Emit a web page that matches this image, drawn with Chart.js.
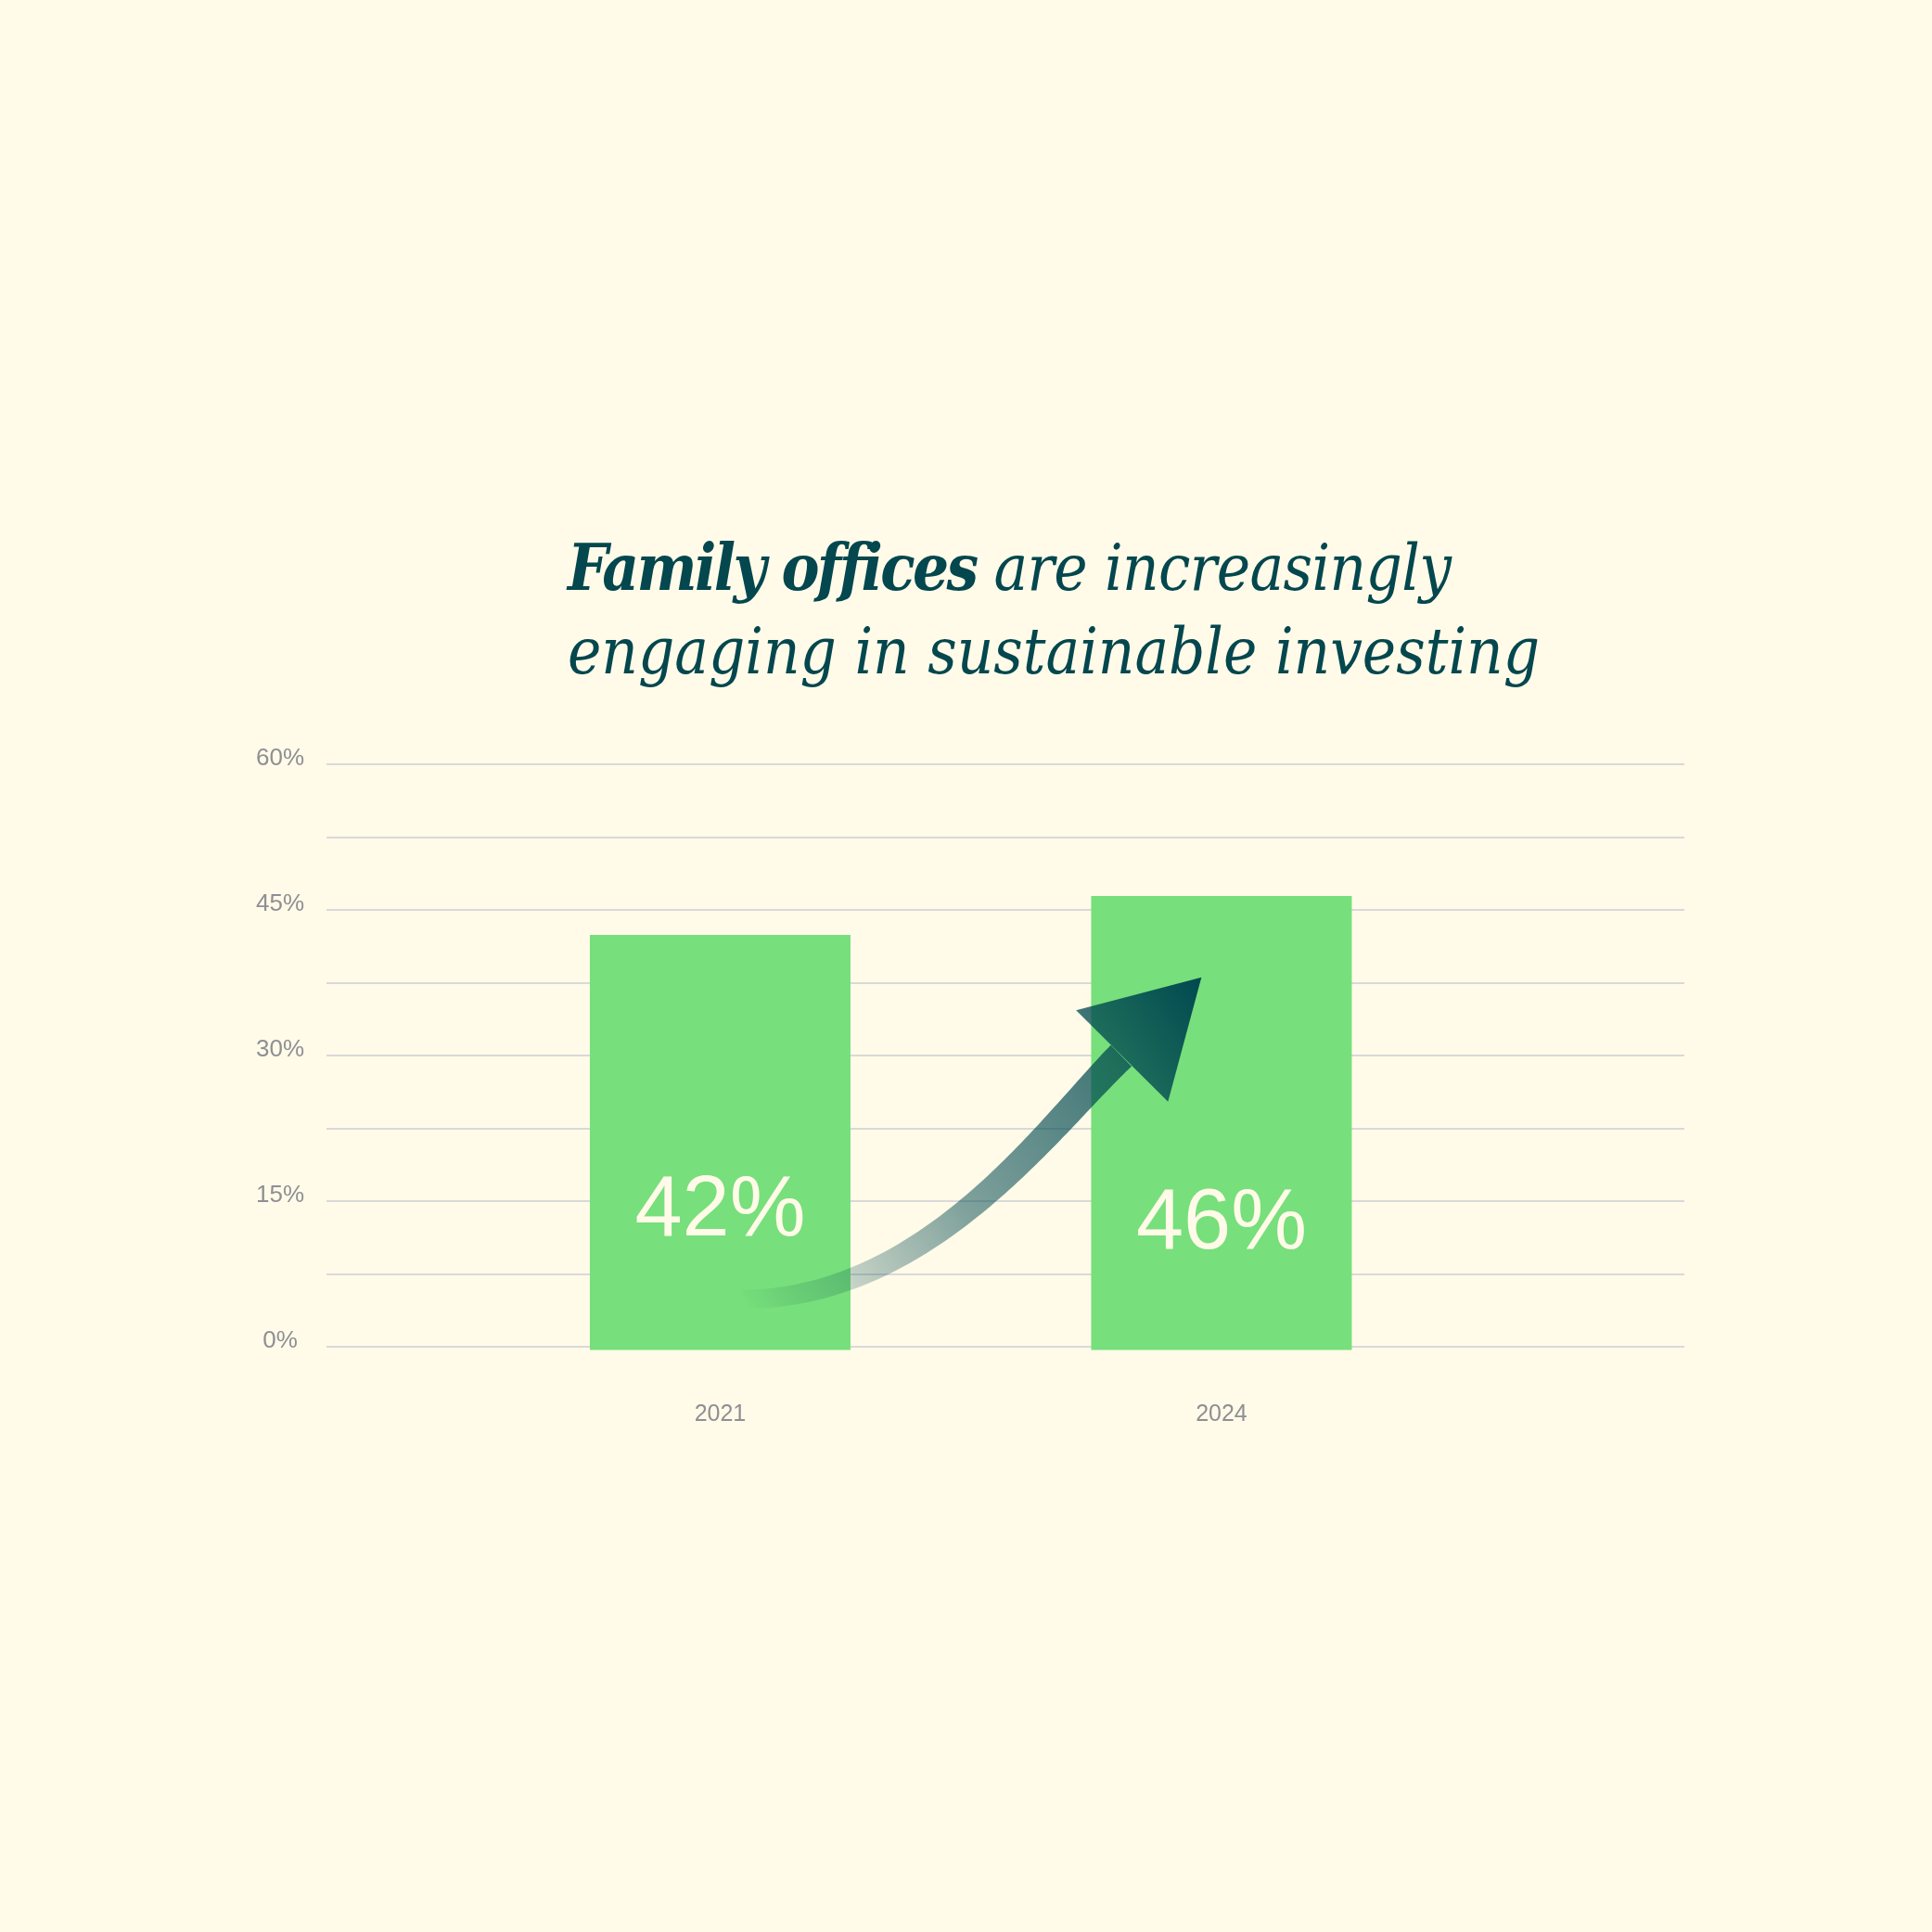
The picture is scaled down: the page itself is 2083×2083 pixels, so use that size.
<!DOCTYPE html>
<html>
<head>
<meta charset="utf-8">
<script src="https://cdn.jsdelivr.net/npm/chart.js@4.4.1/dist/chart.umd.min.js"></script>
<style>
  html, body { margin: 0; padding: 0; background: #fffbe8; }
  #wrap { position: relative; width: 2083px; height: 2083px; overflow: hidden; }
  #c { position: absolute; left: 0; top: 0; }
  #title {
    position: absolute; left: 612px; top: 566px; margin: 0;
    font-family: "DejaVu Serif Condensed", "DejaVu Serif", serif;
    font-style: italic; font-weight: 400; font-size: 66px; line-height: 90px;
    color: #04474e; white-space: nowrap; letter-spacing: 0;
  }
  #title b { font-weight: 700; letter-spacing: -2.6px; }
  #title .line { display: block; }
  #title .rest { letter-spacing: -0.6px; }
  #bl { display: inline-block; width: 0; height: 0; }
</style>
</head>
<body>
<div id="wrap">
  <canvas id="c" width="2083" height="2083"></canvas>
  <h1 id="title"><span class="line"><span id="l1"><b>Family offices</b><span class="rest"> are increasingly</span></span><span id="bl"></span></span><span class="line"><span id="l2">engaging in sustainable investing</span></span></h1>
</div>
<script>
// ---- data ----
const categories = ['2021', '2024'];
const shareValues = [42, 46];
const yTickValues = [0, 15, 30, 45, 60];

// ---- title fit (layout only) ----
(function fitTitle() {
  const t = document.getElementById('title');
  const l2 = document.getElementById('l2');
  const targetW = 1048;
  let fs = 66;
  for (let k = 0; k < 3; k++) {
    const w = l2.getBoundingClientRect().width;
    fs = fs * targetW / w;
    t.style.fontSize = fs + 'px';
  }
  const bl = document.getElementById('bl');
  const base = bl.getBoundingClientRect().bottom;
  const top = parseFloat(getComputedStyle(t).top);
  t.style.top = (top + (636 - base)) + 'px';
})();

// ---- plugins ----
const valueLabelPlugin = {
  id: 'valueLabels',
  afterDatasetsDraw(chart, args, opts) {
    const meta = chart.getDatasetMeta(0);
    const yBase = chart.scales.y.getPixelForValue(0);
    const c = chart.ctx;
    c.save();
    c.font = opts.font;
    c.fillStyle = opts.color;
    c.textAlign = 'center';
    c.textBaseline = 'alphabetic';
    meta.data.forEach((bar, i) => {
      c.fillText(shareValues[i] + '%', bar.x, yBase - opts.lift[i]);
    });
    c.restore();
  }
};

const arrowPlugin = {
  id: 'trendArrow',
  afterDatasetsDraw(chart, args, o) {
    const xs = chart.scales.x, ys = chart.scales.y;
    const P = p => [xs.getPixelForValue(p[0]), ys.getPixelForValue(p[1])];
    const [p0, p1, p2, p3] = o.curve.map(P);
    const head = o.head.map(P);
    const tip = head[1];
    const c = chart.ctx;
    const g = c.createLinearGradient(p0[0], p0[1], tip[0], tip[1]);
    o.stops.forEach(([t, a]) => g.addColorStop(t, 'rgba(' + o.rgb + ',' + a + ')'));
    const N = 80, left = [], right = [];
    for (let i = 0; i <= N; i++) {
      const t = i / N, mt = 1 - t;
      const x = mt*mt*mt*p0[0] + 3*mt*mt*t*p1[0] + 3*mt*t*t*p2[0] + t*t*t*p3[0];
      const y = mt*mt*mt*p0[1] + 3*mt*mt*t*p1[1] + 3*mt*t*t*p2[1] + t*t*t*p3[1];
      const dx = 3*mt*mt*(p1[0]-p0[0]) + 6*mt*t*(p2[0]-p1[0]) + 3*t*t*(p3[0]-p2[0]);
      const dy = 3*mt*mt*(p1[1]-p0[1]) + 6*mt*t*(p2[1]-p1[1]) + 3*t*t*(p3[1]-p2[1]);
      const len = Math.hypot(dx, dy) || 1;
      const nx = -dy / len, ny = dx / len;
      const w = (o.w0 + (o.w1 - o.w0) * t) / 2;
      left.push([x + nx * w, y + ny * w]);
      right.push([x - nx * w, y - ny * w]);
    }
    c.save();
    c.fillStyle = g;
    c.beginPath();
    left.forEach((p, i) => i ? c.lineTo(p[0], p[1]) : c.moveTo(p[0], p[1]));
    right.reverse().forEach(p => c.lineTo(p[0], p[1]));
    c.closePath();
    c.fill();
    c.beginPath();
    c.moveTo(head[0][0], head[0][1]);
    c.lineTo(head[1][0], head[1][1]);
    c.lineTo(head[2][0], head[2][1]);
    c.closePath();
    c.fill();
    c.restore();
  }
};

const tickFont = { family: '"Liberation Sans", Arial, Helvetica, sans-serif', size: 26 };
const tickColor = '#8f8f94';

new Chart(document.getElementById('c'), {
  type: 'bar',
  data: {
    datasets: [{
      data: categories.map((c, i) => ({ x: Number(c), y: shareValues[i] })),
      backgroundColor: '#77df7b',
      borderWidth: 0,
      barThickness: 272,
      inflateAmount: 4.5,
      clip: false
    }]
  },
  options: {
    responsive: false,
    animation: false,
    devicePixelRatio: 1,
    layout: { padding: { left: 273, right: 267, top: 824, bottom: 531 } },
    plugins: {
      legend: { display: false },
      tooltip: { enabled: false },
      title: { display: false },
      valueLabels: {
        font: '400 92px "Liberation Sans", Arial, Helvetica, sans-serif',
        color: '#fffbe8',
        lift: [120, 106]
      },
      trendArrow: {
        curve: [[2021.13, 4.88], [2022.24, 4.88], [2022.96, 22.57], [2023.40, 29.98]],
        head: [[2023.13, 34.65], [2023.88, 38.06], [2023.68, 25.25]],
        w0: 20, w1: 32,
        rgb: '0,72,80',
        stops: [[0, 0], [0.07, 0.1], [0.2, 0.25], [0.42, 0.5], [0.78, 0.74], [1, 1]]
      }
    },
    scales: {
      x: {
        type: 'linear',
        offset: false,
        bounds: 'data',
        min: 2018.644,
        max: 2026.77,
        grid: { display: false, offset: false },
        border: { display: false },
        afterBuildTicks: s => { s.ticks = categories.map(c => ({ value: Number(c) })); },
        afterFit: s => { s.height = 100; },
        ticks: {
          callback: v => categories.find(c => Number(c) === v) || '',
          color: tickColor,
          font: { family: tickFont.family, size: 25 },
          padding: 50,
          maxRotation: 0,
          autoSkip: false
        }
      },
      y: {
        min: 0,
        max: 60,
        afterFit: s => { s.width = 79; },
        grid: { color: '#d9d9d9', lineWidth: 2, drawTicks: false },
        border: { display: false },
        ticks: {
          stepSize: 7.5,
          callback: v => yTickValues.includes(v) ? v + '%' : '',
          color: tickColor,
          font: tickFont,
          padding: 24,
          crossAlign: 'center',
          labelOffset: -6
        }
      }
    }
  },
  plugins: [arrowPlugin, valueLabelPlugin]
});
</script>
</body>
</html>
